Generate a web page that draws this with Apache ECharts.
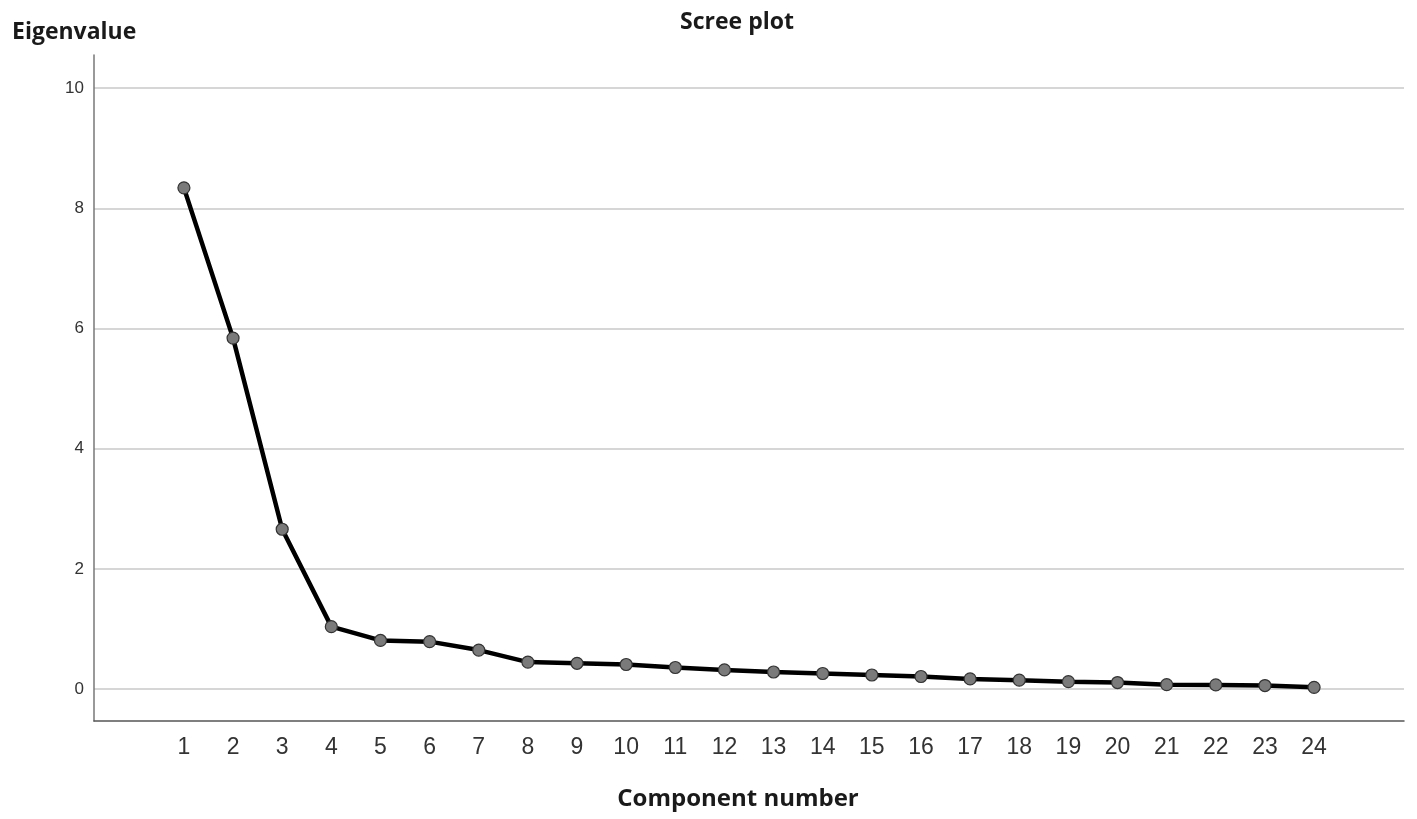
<!DOCTYPE html>
<html>
<head>
<meta charset="utf-8">
<script src="https://cdn.jsdelivr.net/npm/echarts@6/dist/echarts.min.js"></script>
<style>
  html, body { margin: 0; padding: 0; background: #fff; }
  #chart { width: 1417px; height: 819px; }
</style>
</head>
<body>
<div id="chart"></div>
<script>
// scree plot data
const components = [1, 2, 3, 4, 5, 6, 7, 8, 9, 10, 11, 12, 13, 14, 15, 16, 17, 18, 19, 20, 21, 22, 23, 24]
const eigenvalues = [8.34, 5.84, 2.66, 1.04, 0.81, 0.79, 0.65, 0.45, 0.43, 0.41, 0.36, 0.32,
  0.285, 0.26, 0.235, 0.21, 0.17, 0.15, 0.125, 0.11, 0.075, 0.07, 0.06, 0.03]
const yTicks = [0, 2, 4, 6, 8, 10]

const boldFont = '"Open Sans", "Noto Sans", sans-serif'
const plainFont = '"Liberation Sans", Arial, sans-serif'

const chart = echarts.init(document.getElementById('chart'))

const option = {
  backgroundColor: '#fff',
  animation: false,
  title: [
    {
      text: 'Scree plot',
      left: 732, top: 6, textAlign: 'center',
      textStyle: { fontFamily: boldFont, fontWeight: 'bold', fontSize: 23, color: '#1a1a1a' }
    },
    {
      text: 'Eigenvalue',
      left: 7, top: 16,
      textStyle: { fontFamily: boldFont, fontWeight: 'bold', fontSize: 23, color: '#1a1a1a' }
    },
    {
      text: 'Component number',
      left: 733, top: 782, textAlign: 'center',
      textStyle: { fontFamily: boldFont, fontWeight: 'bold', fontSize: 24, color: '#1a1a1a' }
    }
  ],
  grid: { left: 94, right: 13, top: 55, bottom: 98, containLabel: false },
  xAxis: {
    type: 'value',
    min: -0.83,
    max: 25.83,
    axisLine: { show: true, onZero: false, lineStyle: { color: '#555', width: 1.5 } },
    axisTick: { show: false, customValues: components },
    splitLine: { show: false },
    axisLabel: {
      customValues: components,
      margin: 15,
      fontFamily: plainFont, fontSize: 23, color: '#333'
    }
  },
  yAxis: {
    type: 'value',
    min: -0.53,
    max: 10.55,
    axisLine: { show: true, onZero: false, lineStyle: { color: '#777', width: 1.5 } },
    axisTick: { show: false, customValues: yTicks },
    splitLine: { show: true, lineStyle: { color: '#c8c8c8', width: 1.5 } },
    axisLabel: {
      customValues: yTicks,
      margin: 10,
      fontFamily: plainFont, fontSize: 17, color: '#333'
    }
  },
  series: [{
    type: 'line',
    data: components.map((c, i) => [c, eigenvalues[i]]),
    symbol: 'circle',
    symbolSize: 12,
    lineStyle: { color: '#000', width: 4.5 },
    itemStyle: { color: '#7a7a7a', borderColor: '#333', borderWidth: 1.2 },
    z: 3
  }]
}

chart.setOption(option)
</script>
</body>
</html>
